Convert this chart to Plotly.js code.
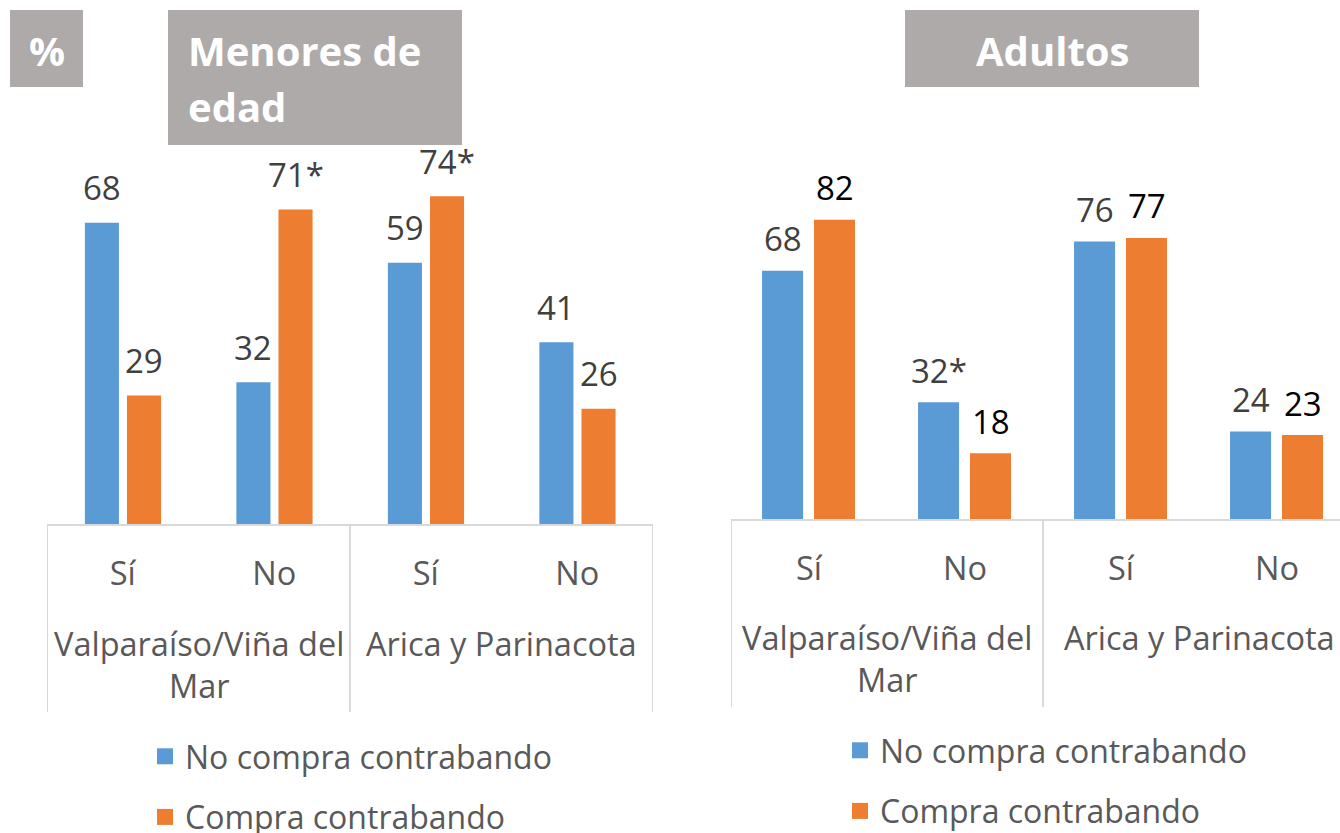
<!DOCTYPE html>
<html><head><meta charset="utf-8">
<script src="https://cdn.plot.ly/plotly-3.0.1.min.js"></script>
<style>html,body{margin:0;padding:0;background:#fff}#chart{width:1340px;height:833px}</style>
</head><body><div id="chart"></div>
<script>
// ---- data ----
const categories = ["Sí", "No", "Sí", "No"];
const categoryIds = ["valpo_si", "valpo_no", "arica_si", "arica_no"];
const groupLabels = ["Valparaíso/Viña del<br>Mar", "Arica y Parinacota"];
const groupFirst = [0, 2];
const groupLast = [1, 3];
const seriesNames = ["No compra contrabando", "Compra contrabando"];
const menoresNoCompra = [68, 32, 59, 41];
const menoresCompra = [29, 71, 74, 26];
const menoresNoCompraMark = ["", "", "", ""];
const menoresCompraMark = ["", "*", "*", ""];
const adultosNoCompra = [68, 32, 76, 24];
const adultosCompra = [82, 18, 77, 23];
const adultosNoCompraMark = ["", "*", "", ""];
const adultosCompraMark = ["", "", "", ""];
const titlePct = "%";
const titleMenores = ["Menores de", "edad"];
const titleAdultos = "Adultos";

// ---- styling helpers ----
const W = 1340, H = 833;
const px = x => x / W, py = y => 1 - y / H;
const FONT = "Open Sans, sans-serif";
const BLUE = "#5b9bd5", ORANGE = "#ed7d31";
const GREY_TXT = "#595959", LABEL_TXT = "#404040";
const BOX = "#aeaaaa", AXIS = "#d9d9d9";

const panels = [
  {xa: "x", ya: "y", legend: "legend", nc: menoresNoCompra, c: menoresCompra,
   ncm: menoresNoCompraMark, cm: menoresCompraMark,
   width: 0.225, offB: -0.25, offO: 0.028, shift: 35,
   ncColor: LABEL_TXT, cColor: LABEL_TXT, axisY: 524, divBottom: 712, groupTop: 619},
  {xa: "x2", ya: "y2", legend: "legend2", nc: adultosNoCompra, c: adultosCompra,
   ncm: adultosNoCompraMark, cm: adultosCompraMark,
   width: 0.263, offB: -0.301, offO: 0.032, shift: 32,
   ncColor: LABEL_TXT, cColor: "#000000", axisY: 519, divBottom: 707, groupTop: 613}
];

const traces = [];
const annotations = [];
const shapes = [];

panels.forEach((p, k) => {
  traces.push({type: "bar", x: categoryIds, y: p.nc, name: seriesNames[0],
    xaxis: p.xa, yaxis: p.ya, width: p.width, offset: p.offB,
    marker: {color: BLUE}, showlegend: false, hoverinfo: "skip"});
  traces.push({type: "bar", x: categoryIds, y: p.c, name: seriesNames[1],
    xaxis: p.xa, yaxis: p.ya, width: p.width, offset: p.offO,
    marker: {color: ORANGE}, showlegend: false, hoverinfo: "skip"});
  // legend entries (square keys)
  [BLUE, ORANGE].forEach((col, si) => {
    traces.push({type: "scatter", mode: "markers", x: [null], y: [null], name: seriesNames[si],
      xaxis: p.xa, yaxis: p.ya, marker: {symbol: "square", size: 20, color: col},
      legend: p.legend, legendgroup: "g" + k + si, hoverinfo: "skip"});
  });
  const addLabels = (vals, marks, off, color) => vals.forEach((v, i) => {
    annotations.push({xref: p.xa, yref: p.ya, x: i + off + p.width / 2, y: v,
      text: String(v) + marks[i], showarrow: false, yanchor: "middle", yshift: p.shift,
      font: {family: FONT, size: 33, color: color}});
  });
  addLabels(p.nc, p.ncm, p.offB, p.ncColor);
  addLabels(p.c, p.cm, p.offO, p.cColor);
  groupLabels.forEach((g, gi) => {
    annotations.push({xref: p.xa, yref: "paper", x: (groupFirst[gi] + groupLast[gi]) / 2,
      y: py(p.groupTop), yanchor: "top", text: g, showarrow: false,
      font: {family: FONT, size: 32.5, color: GREY_TXT}});
    [groupFirst[gi] - 0.5, groupLast[gi] + 0.5].forEach(xv => {
      shapes.push({type: "line", xref: p.xa, yref: "paper", x0: xv, x1: xv,
        y0: py(p.axisY), y1: py(p.divBottom), line: {color: AXIS, width: 2}});
    });
  });
});

// title boxes
const box = (x0, x1, y0, y1) => ({type: "rect", xref: "paper", yref: "paper",
  x0: px(x0), x1: px(x1), y0: py(y1), y1: py(y0), fillcolor: BOX, line: {width: 0}, layer: "below"});
shapes.push(box(10, 83, 10, 87), box(168, 462, 10, 145), box(905, 1199, 10, 87));
const titleFont = {family: FONT, size: 40, color: "#ffffff", weight: 700};
annotations.push({xref: "paper", yref: "paper", x: px(46.5), y: py(50), text: titlePct,
  showarrow: false, font: titleFont, xanchor: "center", yanchor: "middle"});
annotations.push({xref: "paper", yref: "paper", x: px(186), y: py(51), text: titleMenores[0],
  showarrow: false, font: titleFont, xanchor: "left", yanchor: "middle"});
annotations.push({xref: "paper", yref: "paper", x: px(186), y: py(106), text: titleMenores[1],
  showarrow: false, font: titleFont, xanchor: "left", yanchor: "middle"});
annotations.push({xref: "paper", yref: "paper", x: px(1052), y: py(50), text: titleAdultos,
  showarrow: false, font: titleFont, xanchor: "center", yanchor: "middle"});

const xCommon = {type: "category", tickvals: categoryIds, ticktext: categories,
  showline: true, linecolor: AXIS, linewidth: 2, ticks: "", showgrid: false, zeroline: false,
  tickfont: {family: FONT, size: 32.5, color: GREY_TXT}, ticklabelstandoff: 20, fixedrange: true};
const legendCommon = {orientation: "v", xanchor: "left", yanchor: "top",
  font: {family: FONT, size: 32, color: GREY_TXT}, tracegroupgap: 16,
  bgcolor: "rgba(0,0,0,0)", itemclick: false, itemdoubleclick: false};

const layout = {
  width: W, height: H, margin: {l: 0, r: 0, t: 0, b: 0, autoexpand: false},
  paper_bgcolor: "#ffffff", plot_bgcolor: "rgba(0,0,0,0)",
  showlegend: true, barmode: "group",
  font: {family: FONT, color: GREY_TXT},
  xaxis: Object.assign({}, xCommon, {domain: [px(47), px(653)], range: [-0.5, 3.5], anchor: "y"}),
  yaxis: {domain: [py(524), py(81)], range: [0, 100], visible: false, fixedrange: true, anchor: "x"},
  xaxis2: Object.assign({}, xCommon, {domain: [px(731), 1], range: [-0.5, -0.5 + 609 / 156], anchor: "y2"}),
  yaxis2: {domain: [py(519), py(154)], range: [0, 100], visible: false, fixedrange: true, anchor: "x2"},
  legend: Object.assign({}, legendCommon, {x: px(145), y: py(729)}),
  legend2: Object.assign({}, legendCommon, {x: px(840), y: py(723)}),
  annotations: annotations,
  shapes: shapes
};

Plotly.newPlot("chart", traces, layout, {staticPlot: true, displayModeBar: false});
</script>
</body></html>
